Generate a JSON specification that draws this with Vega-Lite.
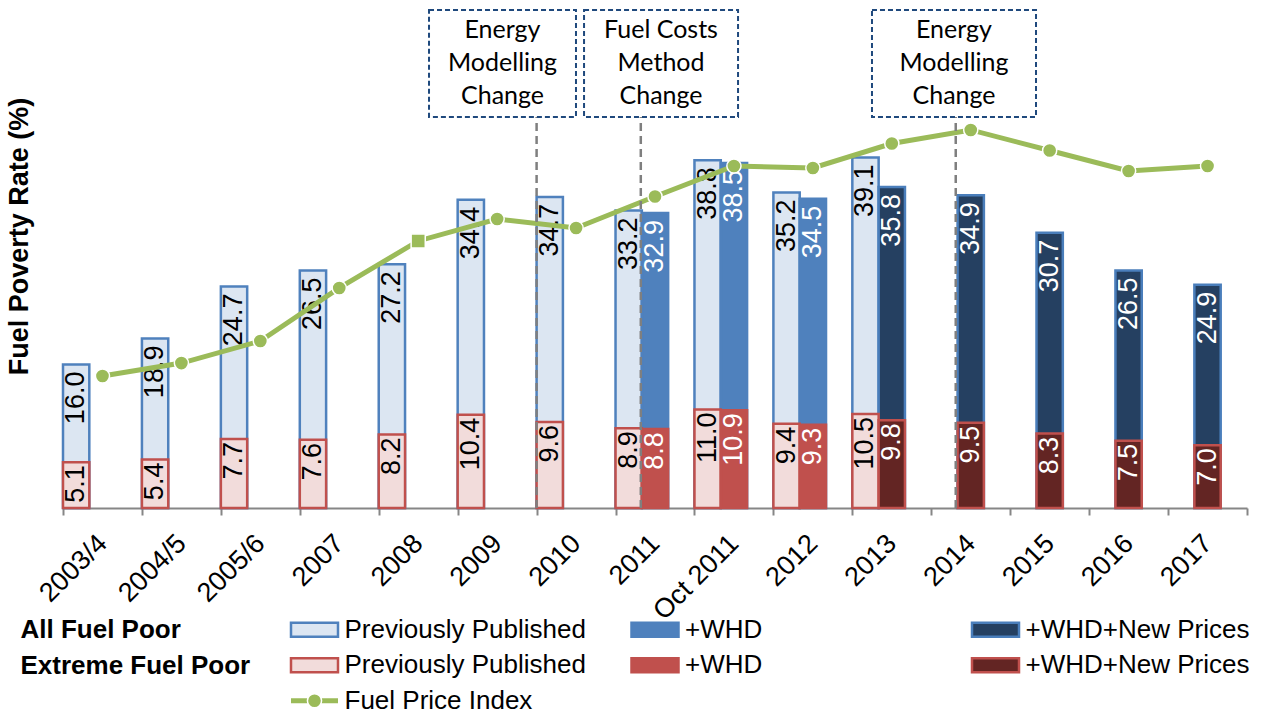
{
  "$schema": "https://vega.github.io/schema/vega-lite/v6.json",
  "background": "white",
  "padding": {"left": 4, "top": 6, "right": 0, "bottom": 0},
  "spacing": 104,
  "bounds": "flush",
  "config": {"view": {"stroke": null}, "font": "Liberation Sans"},
  "datasets": {
    "fuel_poverty": [
      {"year": "2003/4", "series": "Previously Published", "estimate": "Previously Published", "all_fuel_poor": 16.0, "extreme_fuel_poor": 5.1},
      {"year": "2004/5", "series": "Previously Published", "estimate": "Previously Published", "all_fuel_poor": 18.9, "extreme_fuel_poor": 5.4},
      {"year": "2005/6", "series": "Previously Published", "estimate": "Previously Published", "all_fuel_poor": 24.7, "extreme_fuel_poor": 7.7},
      {"year": "2007", "series": "Previously Published", "estimate": "Previously Published", "all_fuel_poor": 26.5, "extreme_fuel_poor": 7.6},
      {"year": "2008", "series": "Previously Published", "estimate": "Previously Published", "all_fuel_poor": 27.2, "extreme_fuel_poor": 8.2},
      {"year": "2009", "series": "Previously Published", "estimate": "Previously Published", "all_fuel_poor": 34.4, "extreme_fuel_poor": 10.4},
      {"year": "2010", "series": "Previously Published", "estimate": "Previously Published", "all_fuel_poor": 34.7, "extreme_fuel_poor": 9.6},
      {"year": "2011", "series": "Previously Published", "estimate": "Previously Published", "all_fuel_poor": 33.2, "extreme_fuel_poor": 8.9},
      {"year": "2011", "series": "+WHD", "estimate": "Revised", "all_fuel_poor": 32.9, "extreme_fuel_poor": 8.8},
      {"year": "Oct 2011", "series": "Previously Published", "estimate": "Previously Published", "all_fuel_poor": 38.8, "extreme_fuel_poor": 11.0},
      {"year": "Oct 2011", "series": "+WHD", "estimate": "Revised", "all_fuel_poor": 38.5, "extreme_fuel_poor": 10.9},
      {"year": "2012", "series": "Previously Published", "estimate": "Previously Published", "all_fuel_poor": 35.2, "extreme_fuel_poor": 9.4},
      {"year": "2012", "series": "+WHD", "estimate": "Revised", "all_fuel_poor": 34.5, "extreme_fuel_poor": 9.3},
      {"year": "2013", "series": "Previously Published", "estimate": "Previously Published", "all_fuel_poor": 39.1, "extreme_fuel_poor": 10.5},
      {"year": "2013", "series": "+WHD+New Prices", "estimate": "Revised", "all_fuel_poor": 35.8, "extreme_fuel_poor": 9.8},
      {"year": "2014", "series": "+WHD+New Prices", "estimate": "Revised", "all_fuel_poor": 34.9, "extreme_fuel_poor": 9.5},
      {"year": "2015", "series": "+WHD+New Prices", "estimate": "Revised", "all_fuel_poor": 30.7, "extreme_fuel_poor": 8.3},
      {"year": "2016", "series": "+WHD+New Prices", "estimate": "Revised", "all_fuel_poor": 26.5, "extreme_fuel_poor": 7.5},
      {"year": "2017", "series": "+WHD+New Prices", "estimate": "Revised", "all_fuel_poor": 24.9, "extreme_fuel_poor": 7.0}
    ],
    "fuel_price_index": [
      {"year": "2003/4", "index": 100.0},
      {"year": "2004/5", "index": 109.8},
      {"year": "2005/6", "index": 126.5},
      {"year": "2007", "index": 166.7},
      {"year": "2008", "index": 202.3},
      {"year": "2009", "index": 218.9},
      {"year": "2010", "index": 212.1},
      {"year": "2011", "index": 236.0},
      {"year": "Oct 2011", "index": 259.1},
      {"year": "2012", "index": 257.6},
      {"year": "2013", "index": 276.1},
      {"year": "2014", "index": 286.4},
      {"year": "2015", "index": 270.8},
      {"year": "2016", "index": 255.3},
      {"year": "2017", "index": 259.1}
    ],
    "annotations": [
      {"event": "Energy\nModelling\nChange", "line_x": 6.0, "box_x1": 4.637, "box_x2": 6.499, "text_x": 5.568},
      {"event": "Fuel Costs\nMethod\nChange", "line_x": 7.32, "box_x1": 6.601, "box_x2": 8.552, "text_x": 7.576},
      {"event": "Energy\nModelling\nChange", "line_x": 11.31, "box_x1": 10.249, "box_x2": 12.327, "text_x": 11.288}
    ],
    "legend": [
      {"group": "All Fuel Poor", "series": "Previously Published", "label": "Previously Published"},
      {"group": "All Fuel Poor", "series": "+WHD", "label": "+WHD"},
      {"group": "All Fuel Poor", "series": "+WHD+New Prices", "label": "+WHD+New Prices"},
      {"group": "Extreme Fuel Poor", "series": "Previously Published", "label": "Previously Published"},
      {"group": "Extreme Fuel Poor", "series": "+WHD", "label": "+WHD"},
      {"group": "Extreme Fuel Poor", "series": "+WHD+New Prices", "label": "+WHD+New Prices"},
      {"group": "Fuel Price Index", "series": "Previously Published", "label": "Fuel Price Index"}
    ]
  },
  "vconcat": [
    {
      "width": 1184,
      "height": 502,
      "layer": [
        {
          "data": {"name": "fuel_poverty"},
          "encoding": {
            "x": {
              "field": "year", "type": "nominal", "sort": null,
              "scale": {"type": "band", "domain": ["2003/4", "2004/5", "2005/6", "2007", "2008", "2009", "2010", "2011", "Oct 2011", "2012", "2013", "2014", "2015", "2016", "2017"], "paddingInner": 0, "paddingOuter": 0},
              "axis": {"title": null, "tickBand": "extent", "domainColor": "#868686", "domainWidth": 2, "tickColor": "#868686", "tickWidth": 2, "tickSize": 7, "labelAngle": -45, "labelAlign": "right", "labelBaseline": "middle", "labelFont": "Liberation Sans", "labelFontSize": 27, "labelColor": "black", "labelPadding": 24, "grid": false}
            },
            "xOffset": {
              "field": "estimate", "type": "nominal",
              "scale": {"domain": ["Previously Published", "Revised"], "paddingInner": 0, "paddingOuter": 0.5, "align": 0}
            }
          },
          "layer": [
            {
              "mark": {"type": "bar", "strokeWidth": 2.5},
              "encoding": {
                "y": {"field": "all_fuel_poor", "type": "quantitative", "scale": {"domain": [0, 56]},
                  "axis": {"title": "Fuel Poverty Rate (%)", "titleFont": "Liberation Sans", "titleFontSize": 27, "titleFontWeight": "bold", "titleColor": "black", "titleAngle": 270, "titleX": -30, "titleY": 230, "titleAlign": "center", "titleBaseline": "bottom", "labels": false, "ticks": false, "domain": false, "grid": false}},
                "fill": {"field": "series", "type": "nominal", "scale": {"domain": ["Previously Published", "+WHD", "+WHD+New Prices"], "range": ["#DCE6F2", "#4F81BD", "#254061"]}, "legend": null},
                "stroke": {"field": "series", "type": "nominal", "scale": {"domain": ["Previously Published", "+WHD", "+WHD+New Prices"], "range": ["#4F81BD", "#4F81BD", "#4A7EBB"]}, "legend": null}
              }
            },
            {
              "mark": {"type": "bar", "strokeWidth": 2.5},
              "encoding": {
                "y": {"field": "extreme_fuel_poor", "type": "quantitative", "scale": {"domain": [0, 56]}},
                "fill": {"field": "series", "type": "nominal", "scale": {"domain": ["Previously Published", "+WHD", "+WHD+New Prices"], "range": ["#F2DCDB", "#C0504D", "#632523"]}, "legend": null},
                "stroke": {"field": "series", "type": "nominal", "scale": {"domain": ["Previously Published", "+WHD", "+WHD+New Prices"], "range": ["#C0504D", "#C0504D", "#C0504D"]}, "legend": null}
              }
            },
            {
              "mark": {"type": "text", "angle": 270, "align": "right", "baseline": "middle", "dx": -7, "font": "Liberation Sans", "fontSize": 27},
              "encoding": {
                "y": {"field": "all_fuel_poor", "type": "quantitative", "scale": {"domain": [0, 56]}},
                "text": {"field": "all_fuel_poor", "type": "quantitative", "format": ".1f"},
                "color": {"condition": {"test": "datum.series === 'Previously Published'", "value": "black"}, "value": "white"}
              }
            },
            {
              "mark": {"type": "text", "angle": 270, "align": "right", "baseline": "middle", "dx": -3, "font": "Liberation Sans", "fontSize": 27},
              "encoding": {
                "y": {"field": "extreme_fuel_poor", "type": "quantitative", "scale": {"domain": [0, 56]}},
                "text": {"field": "extreme_fuel_poor", "type": "quantitative", "format": ".1f"},
                "color": {"condition": {"test": "datum.series === 'Previously Published'", "value": "black"}, "value": "white"}
              }
            }
          ],
          "resolve": {"scale": {"fill": "independent", "stroke": "independent"}}
        },
        {
          "data": {"name": "fuel_price_index"},
          "encoding": {
            "x": {"field": "year", "type": "nominal", "sort": null,
              "scale": {"type": "band", "domain": ["2003/4", "2004/5", "2005/6", "2007", "2008", "2009", "2010", "2011", "Oct 2011", "2012", "2013", "2014", "2015", "2016", "2017"], "paddingInner": 0, "paddingOuter": 0},
              "axis": null},
            "y": {"field": "index", "type": "quantitative", "scale": {"domain": [0, 380.3]}, "axis": null}
          },
          "layer": [
            {"mark": {"type": "line", "color": "#9BBB59", "strokeWidth": 5}},
            {"mark": {"type": "point", "filled": true, "size": 200, "color": "#9BBB59", "stroke": "white", "strokeWidth": 1.5, "opacity": 1},
             "encoding": {"shape": {"condition": {"test": "datum.year === '2008'", "value": "square"}, "value": "circle"}}}
          ]
        },
        {
          "data": {"name": "annotations"},
          "layer": [
            {
              "mark": {"type": "rule", "color": "#7F7F7F", "strokeWidth": 2.5, "strokeDash": [8, 5]},
              "encoding": {
                "x": {"field": "line_x", "type": "quantitative", "scale": {"domain": [0, 15]}, "axis": null},
                "y": {"datum": 0, "type": "quantitative", "scale": {"domain": [0, 56]}, "axis": null},
                "y2": {"datum": 43.62}
              }
            },
            {
              "mark": {"type": "rect", "fill": "white", "stroke": "#1F497D", "strokeWidth": 2, "strokeDash": [5, 3]},
              "encoding": {
                "x": {"field": "box_x1", "type": "quantitative", "scale": {"domain": [0, 15]}, "axis": null},
                "x2": {"field": "box_x2"},
                "y": {"datum": 43.62, "type": "quantitative", "scale": {"domain": [0, 56]}, "axis": null},
                "y2": {"datum": 55.55}
              }
            },
            {
              "mark": {"type": "text", "lineBreak": "\n", "lineHeight": 33, "font": "Lato", "fontSize": 25, "color": "black", "align": "center", "baseline": "middle", "dy": -33},
              "encoding": {
                "x": {"field": "text_x", "type": "quantitative", "scale": {"domain": [0, 15]}, "axis": null},
                "y": {"datum": 49.59, "type": "quantitative", "scale": {"domain": [0, 56]}, "axis": null},
                "text": {"field": "event", "type": "nominal"}
              }
            }
          ]
        }
      ],
      "resolve": {"scale": {"x": "independent", "y": "independent"}}
    },
    {
      "width": 1184,
      "height": 106.5,
      "data": {"name": "legend"},
      "encoding": {
        "x": {"field": "series", "type": "nominal", "scale": {"type": "point", "domain": ["Previously Published", "+WHD", "+WHD+New Prices"], "padding": 0.7386}, "axis": null},
        "y": {"field": "group", "type": "nominal", "scale": {"type": "point", "domain": ["All Fuel Poor", "Extreme Fuel Poor", "Fuel Price Index"], "padding": 0.5},
          "axis": {"title": null, "labelExpr": "datum.value === 'Fuel Price Index' ? '' : datum.value", "labelAlign": "left", "labelBaseline": "middle", "labelPadding": 43, "labelLimit": 400, "labelFont": "Liberation Sans", "labelFontSize": 26, "labelFontWeight": "bold", "labelColor": "black", "ticks": false, "domain": false, "grid": false}}
      },
      "layer": [
        {
          "transform": [{"filter": "datum.group === 'All Fuel Poor'"}],
          "mark": {"type": "point", "shape": "M-1,-0.3H1V0.3H-1Z", "size": 2209, "filled": true, "strokeWidth": 2.5, "opacity": 1},
          "encoding": {
            "fill": {"field": "series", "type": "nominal", "scale": {"domain": ["Previously Published", "+WHD", "+WHD+New Prices"], "range": ["#DCE6F2", "#4F81BD", "#254061"]}, "legend": null},
            "stroke": {"field": "series", "type": "nominal", "scale": {"domain": ["Previously Published", "+WHD", "+WHD+New Prices"], "range": ["#4F81BD", "#4F81BD", "#4A7EBB"]}, "legend": null}
          }
        },
        {
          "transform": [{"filter": "datum.group === 'Extreme Fuel Poor'"}],
          "mark": {"type": "point", "shape": "M-1,-0.3H1V0.3H-1Z", "size": 2209, "filled": true, "strokeWidth": 2.5, "opacity": 1},
          "encoding": {
            "fill": {"field": "series", "type": "nominal", "scale": {"domain": ["Previously Published", "+WHD", "+WHD+New Prices"], "range": ["#F2DCDB", "#C0504D", "#632523"]}, "legend": null},
            "stroke": {"field": "series", "type": "nominal", "scale": {"domain": ["Previously Published", "+WHD", "+WHD+New Prices"], "range": ["#C0504D", "#C0504D", "#C0504D"]}, "legend": null}
          }
        },
        {
          "transform": [{"filter": "datum.group === 'Fuel Price Index'"}],
          "mark": {"type": "point", "shape": "M-1,0H1", "size": 2209, "filled": false, "stroke": "#9BBB59", "strokeWidth": 5, "opacity": 1}
        },
        {
          "transform": [{"filter": "datum.group === 'Fuel Price Index'"}],
          "mark": {"type": "point", "shape": "circle", "size": 200, "filled": true, "color": "#9BBB59", "stroke": "white", "strokeWidth": 1.5, "opacity": 1}
        },
        {
          "mark": {"type": "text", "align": "left", "baseline": "middle", "dx": 30, "font": "Liberation Sans", "fontSize": 26, "color": "black"},
          "encoding": {"text": {"field": "label", "type": "nominal"}}
        }
      ],
      "resolve": {"scale": {"fill": "independent", "stroke": "independent"}}
    }
  ]
}
